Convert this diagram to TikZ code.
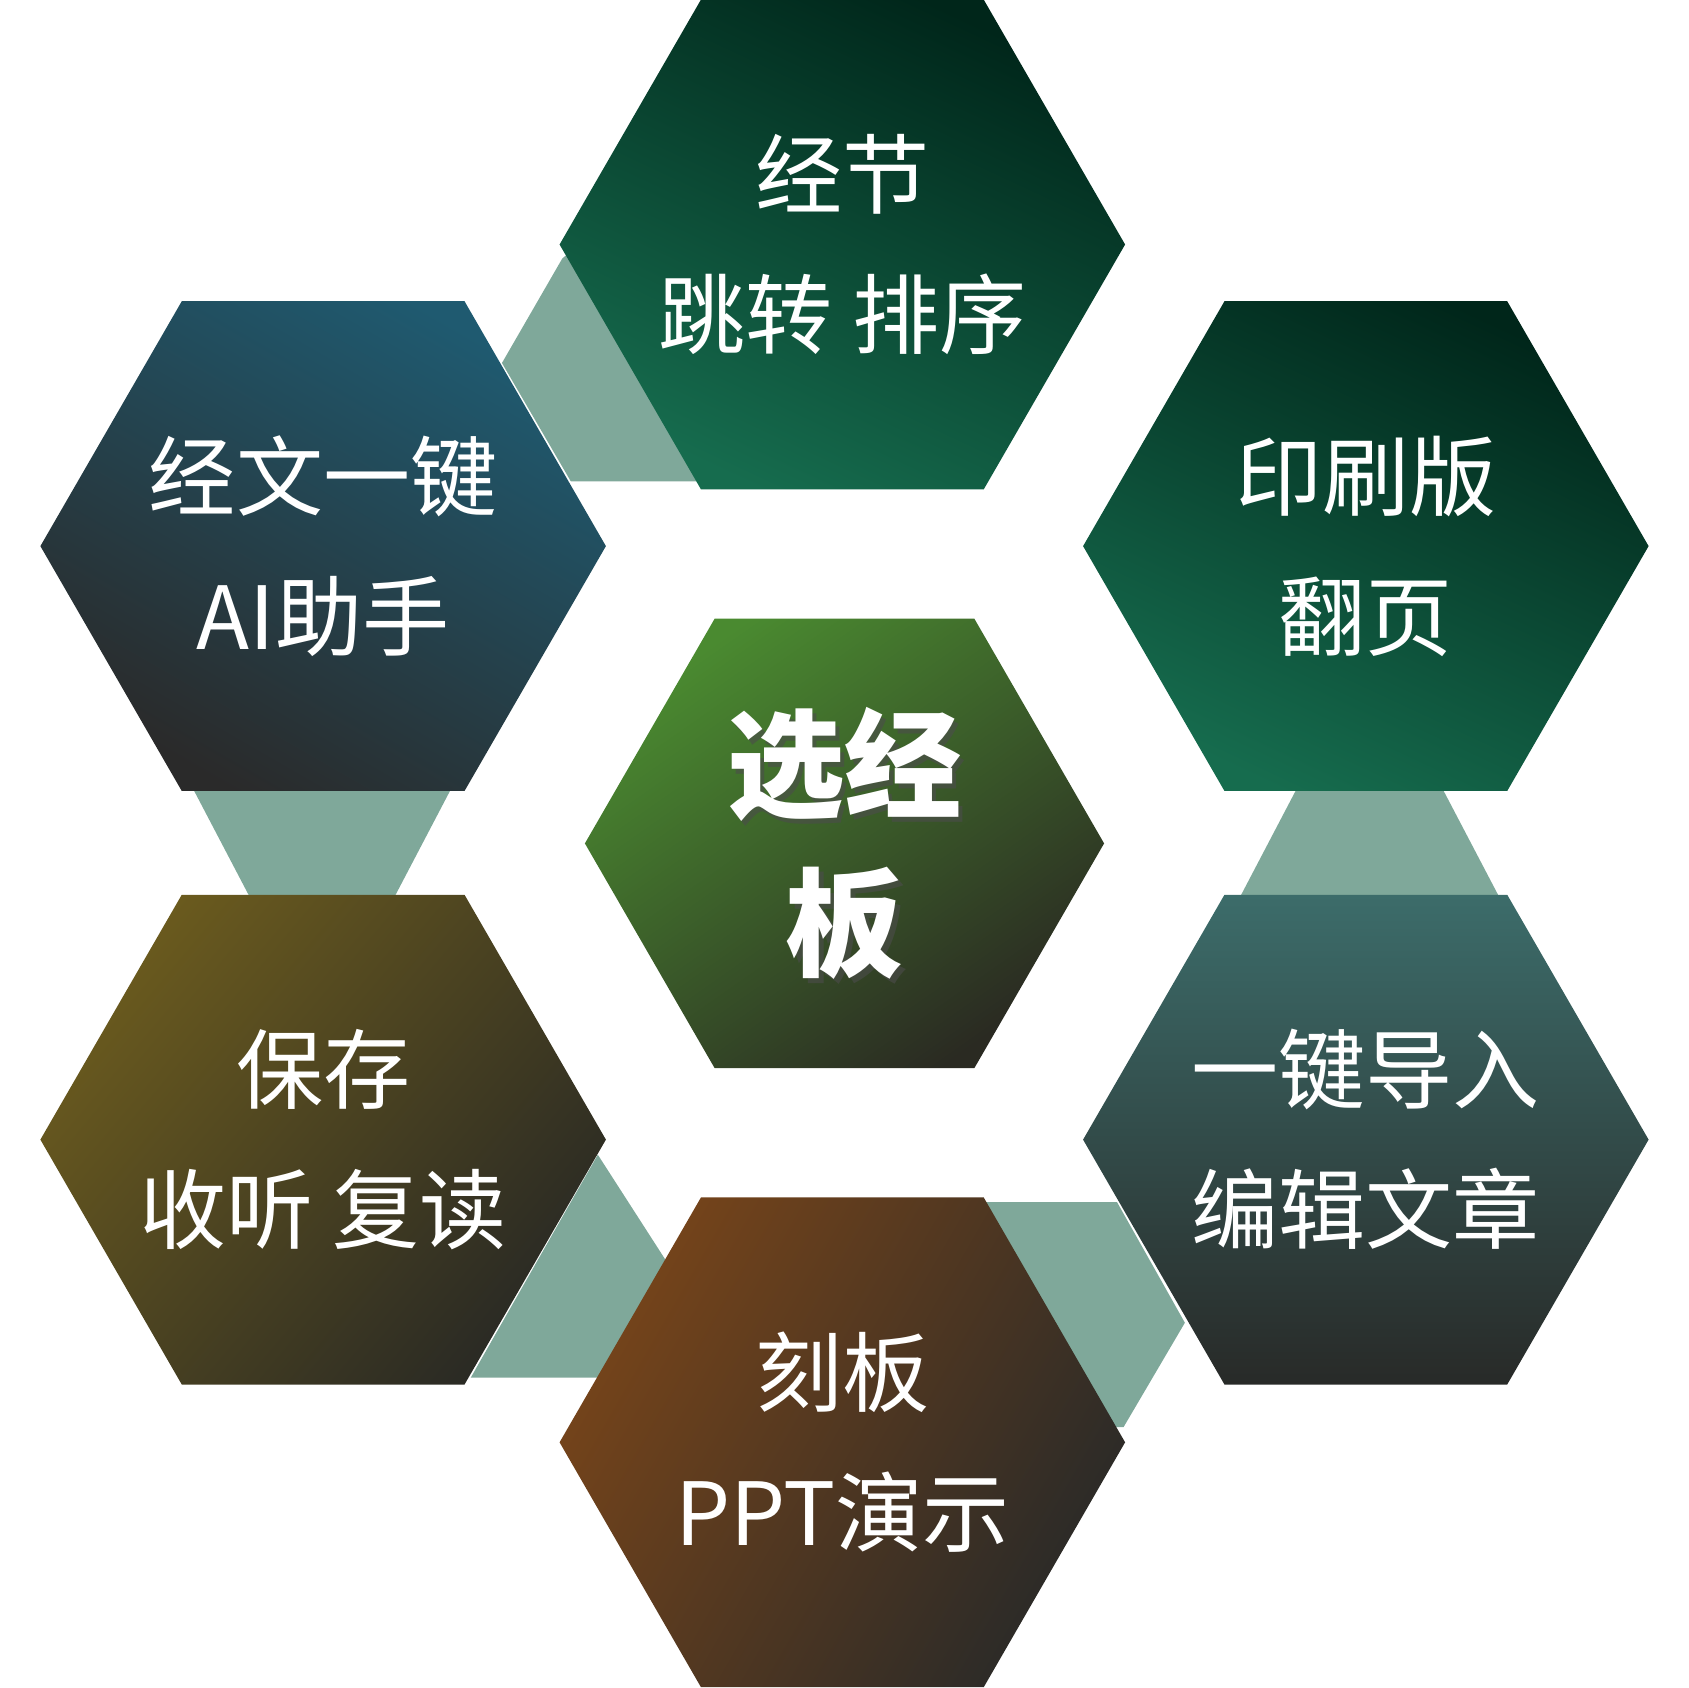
\documentclass[tikz,border=0pt]{standalone}
\usepackage{fontspec}
\newfontfamily\cjk{Noto Sans CJK SC}
\newfontfamily\cjkb{Noto Sans CJK SC Black}
\usetikzlibrary{shapes.geometric}
\definecolor{conn}{HTML}{7FA89A}
\definecolor{tA}{HTML}{00261A}\definecolor{tB}{HTML}{166C4E}
\definecolor{lA}{HTML}{1F5A70}\definecolor{lB}{HTML}{2A2A2A}
\definecolor{cA}{HTML}{4A8A30}\definecolor{cB}{HTML}{2A2A22}
\definecolor{pA}{HTML}{6A5A1E}\definecolor{pB}{HTML}{2A2A24}
\definecolor{rA}{HTML}{3C6C6A}\definecolor{rB}{HTML}{282A28}
\definecolor{bA}{HTML}{76441A}\definecolor{bB}{HTML}{2A2A28}
\newlength\pxu \setlength\pxu{0.01cm}
\tikzset{
 hex/.style={regular polygon,regular polygon sides=6,minimum size=525\pxu,inner sep=0pt,draw=none},
 lbl/.style={text=white,align=center,font=\cjk\fontsize{23}{37}\selectfont},
 big/.style={align=center,font=\cjkb\fontsize{31}{42}\selectfont},
 link/.style={fill=conn,draw=none}
}
\begin{document}
\begin{tikzpicture}[x=0.01cm,y=-0.01cm]
\useasboundingbox (0,0) rectangle (1568,1567);
% connectors
\fill[link] (522,240) -- (540,225) -- (660,447) -- (530,447) -- (466,337) -- cycle;
\fill[link] (178,730) -- (420,730) -- (365,835) -- (233,835) -- cycle;
\fill[link] (1205,730) -- (1338,730) -- (1393,835) -- (1150,835) -- cycle;
\fill[link] (555,1072) -- (620,1173) -- (575,1279) -- (437,1279) -- cycle;
\fill[link] (905,1116) -- (1037,1116) -- (1100,1228) -- (1043,1325) -- (1025,1325) -- cycle;
% hexagons
\node[hex,top color=tA,bottom color=tB,shading angle=-25] (top) at (782,227) {};
\node[hex,top color=lA,bottom color=lB,shading angle=-30] (lt) at (300,507) {};
\node[hex,top color=tA,bottom color=tB,shading angle=-25] (rt) at (1268,507) {};
\node[hex,minimum size=482\pxu,top color=cA,bottom color=cB,shading angle=35] (ctr) at (784,783) {};
\node[hex,top color=pA,bottom color=pB,shading angle=50] (lb) at (300,1058) {};
\node[hex,top color=rA,bottom color=rB] (rb) at (1268,1058) {};
\node[hex,top color=bA,bottom color=bB,shading angle=60] (bot) at (782,1339) {};
% labels
\node[lbl] at (top) {经节\\跳转 排序};
\node[lbl] at (lt) {经文一键\\AI助手};
\node[lbl] at (rt) {印刷版\\翻页};
\node[lbl] at (lb) {保存\\收听 复读};
\node[lbl] at (rb) {一键导入\\编辑文章};
\node[lbl] at (bot) {刻板\\PPT演示};
\node[big,text=black!70,opacity=0.6] at ([shift={(4,5)}]ctr) {选经\\板};
\node[big,text=white] (ct) at (ctr) {选经\\板};
\end{tikzpicture}
\end{document}
